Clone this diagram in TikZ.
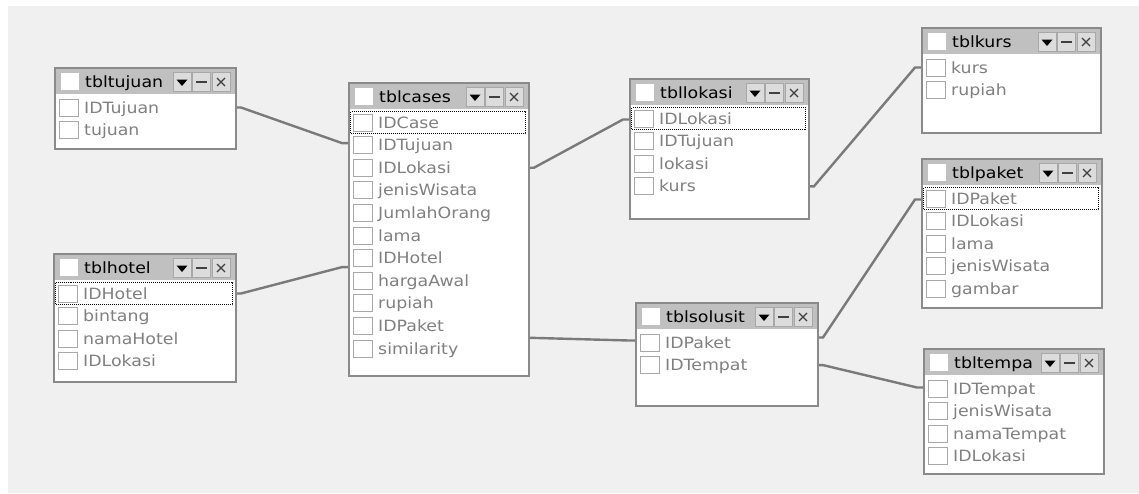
\documentclass[tikz,border=0pt]{standalone}
\usepackage{fontspec}
\newfontfamily\tblfont{DejaVu Sans}[FakeStretch=1.12]
\usetikzlibrary{calc,backgrounds}

\definecolor{canvas}{HTML}{F0F0F0}
\definecolor{framegray}{HTML}{8A8A8A}
\definecolor{titlegray}{HTML}{C0C0C0}
\definecolor{btngray}{HTML}{DCDCDC}
\definecolor{fieldgray}{HTML}{808080}
\definecolor{linkgray}{HTML}{7A7A7A}
\definecolor{boxgray}{HTML}{A8A8A8}
\definecolor{glyphgray}{HTML}{404040}

\tikzset{
  tblframe/.style={draw=framegray, line width=1.6pt, inner sep=0pt, anchor=north west},
  fieldbox/.style={draw=boxgray, line width=0.9pt, fill=white, minimum width=19pt, minimum height=17pt, inner sep=0pt},
  titlebox/.style={fill=white, minimum width=18pt, minimum height=17pt, inner sep=0pt},
  btn/.style={draw=boxgray, fill=btngray, line width=0.8pt, minimum width=18pt, minimum height=19pt, inner sep=0pt},
  fieldtext/.style={anchor=base west, inner sep=0pt, text=fieldgray, font=\tblfont\fontsize{15.5}{18}\selectfont},
  titletext/.style={anchor=base west, inner sep=0pt, text=black, font=\tblfont\fontsize{15.5}{18}\selectfont},
  link/.style={draw=linkgray, line width=2.4pt},
  focusrow/.style={draw=black, line width=0.9pt, dash pattern=on 1pt off 1pt},
}

% \dbtable{name}{left}{top}{right}{bottom}{title}{fields}
\newcommand\dbtable[7]{%
  \fill[white] (#2,#3) rectangle (#4,#5);
  \fill[titlegray] (#2,#3) rectangle (#4,#3+27);
  \node[tblframe, minimum width={(#4-#2)*1pt}, minimum height={(#5-#3)*1pt}] (#1) at (#2,#3) {};
  \node[titlebox] (#1-chk) at (#2+16,#3+14.5) {};
  \node[titletext] (#1-title) at (#2+31,#3+20.5) {#6};
  \node[btn] (#1-close) at (#4-14,#3+15) {};
  \node[btn] (#1-min) at (#4-33.5,#3+15) {};
  \node[btn] (#1-menu) at (#4-53,#3+15) {};
  \fill[black] ($(#1-menu.center)+(-5.5,-2.5)$) -- ++(11,0) -- ++(-5.5,6.5) -- cycle;
  \draw[glyphgray, line width=1.5pt] ($(#1-min.center)+(-5.5,0)$) -- ++(11,0);
  \draw[glyphgray, line width=1.2pt] ($(#1-close.center)+(-4,-4)$) -- ++(8,8)
        ($(#1-close.center)+(-4,4)$) -- ++(8,-8);
  \foreach \f [count=\i] in {#7} {
    \pgfmathsetmacro\rowy{#3+40.5+(\i-1)*22.6}
    \node[fieldbox] (#1-\i-box) at (#2+15,\rowy) {};
    \node[fieldtext] (#1-\i) at (#2+30,\rowy+5.6) {\f};
    \coordinate (#1-\i-w) at (#2,\rowy);
    \coordinate (#1-\i-e) at (#4,\rowy);
  }%
}

\begin{document}
\begin{tikzpicture}[x=1pt, y=-1pt]
  \useasboundingbox (0,0) rectangle (1139,493);

  % tables
  \dbtable{tujuan}{54}{67}{235}{148}{tbltujuan}{IDTujuan,tujuan}
  \dbtable{cases}{348}{82}{528}{375}{tblcases}{IDCase,IDTujuan,IDLokasi,jenisWisata,JumlahOrang,lama,IDHotel,hargaAwal,rupiah,IDPaket,similarity}
  \dbtable{hotel}{53}{253}{235}{381}{tblhotel}{IDHotel,bintang,namaHotel,IDLokasi}
  \dbtable{lokasi}{629}{78}{808}{218}{tbllokasi}{IDLokasi,IDTujuan,lokasi,kurs}
  \dbtable{solusit}{635}{302}{817}{405}{tblsolusit}{IDPaket,IDTempat}
  \dbtable{kurs}{921}{27}{1100}{132}{tblkurs}{kurs,rupiah}
  \dbtable{paket}{921}{158}{1101}{307}{tblpaket}{IDPaket,IDLokasi,lama,jenisWisata,gambar}
  \dbtable{tempa}{923}{348}{1103}{473}{tbltempa}{IDTempat,jenisWisata,namaTempat,IDLokasi}

  % focused rows
  \foreach \t in {cases,hotel,lokasi,paket}
    \draw[focusrow] ($(\t-1-w)+(2.5,-11)$) rectangle ($(\t-1-e)+(-2.5,11)$);

  \begin{scope}[on background layer]
    \fill[white] (0,0) rectangle (1139,493);
    \fill[canvas] (8,6) rectangle (1139,493);
    % relationships
    \draw[link] (tujuan-1-e) -- ++(6,0) -- ($(cases-2-w)+(-6,-2)$) -- ++(6,0);
    \draw[link] (hotel-1-e) -- ++(6,0) -- ($(cases-7-w)+(-6,9)$) -- ++(6,0);
    \draw[link] (cases-3-e) -- ++(6,0) -- ($(lokasi-1-w)+(-6,1)$) -- ++(6,0);
    \draw[link] ($(cases-10-e)+(0,12)$) -- ++(6,0) -- ($(solusit-1-w)+(-6,-2)$) -- ++(6,0);
    \draw[link] (lokasi-4-e) -- ++(6,0) -- ($(kurs-1-w)+(-6,0)$) -- ++(6,0);
    \draw[link] ($(solusit-1-e)+(0,-5)$) -- ++(6,0) -- ($(paket-1-w)+(-6,1)$) -- ++(6,0);
    \draw[link] (solusit-2-e) -- ++(6,0) -- ($(tempa-1-w)+(-6,-1)$) -- ++(6,0);
  \end{scope}
\end{tikzpicture}
\end{document}
